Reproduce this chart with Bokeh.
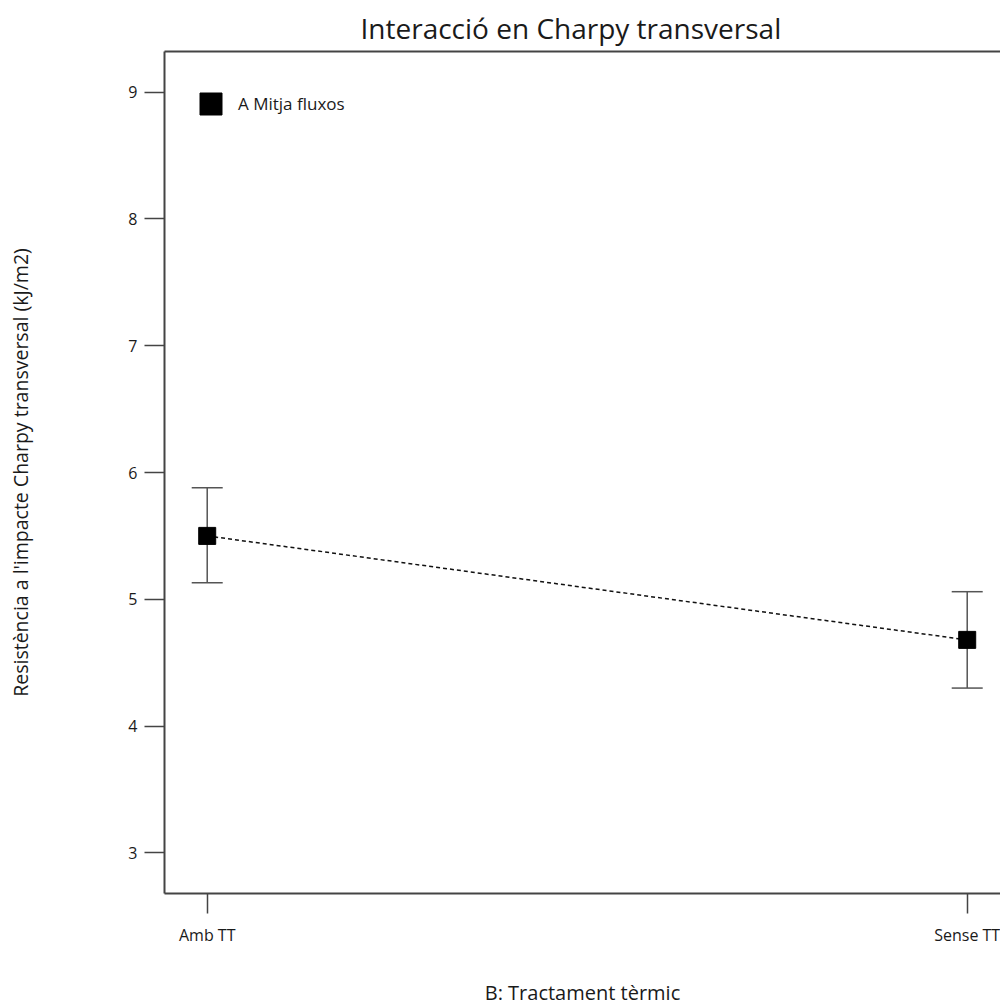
from bokeh.plotting import figure
from bokeh.models import (ColumnDataSource, FixedTicker, LinearAxis, Whisker, TeeHead,
                          Range1d, Legend, LegendItem)
from bokeh.embed import file_html
from bokeh.resources import INLINE

# data
categories = ["Amb TT", "Sense TT"]
series_name = "A Mitja fluxos"
means = [5.50, 4.68]
upper = [5.88, 5.06]
lower = [5.13, 4.30]
y_ticks = [3, 4, 5, 6, 7, 8, 9]

xpos = list(range(len(categories)))
src = ColumnDataSource(dict(x=xpos, y=means, upper=upper, lower=lower))

FONT = "Open Sans"
TXT = "#1a1a1a"
AX = "#444444"

p = figure(width=1000, height=1008, output_backend="svg", toolbar_location=None,
           x_range=Range1d(-0.0562, 1.0438), y_range=Range1d(2.68, 9.32),
           min_border_left=164, min_border_right=0, min_border_top=51, min_border_bottom=114,
           x_axis_location="below")
p.outline_line_color = None
p.grid.visible = False
p.background_fill_color = "white"
p.border_fill_color = "white"

p.title.text = "Interacció en Charpy transversal"
p.title.align = "left"
p.title.offset = 196
p.title.standoff = 10
p.title.text_font = FONT
p.title.text_font_size = "28px"
p.title.text_font_style = "normal"
p.title.text_color = TXT

# axes
xa = p.xaxis[0]
xa.ticker = FixedTicker(ticks=xpos)
xa.major_label_overrides = {i: c for i, c in enumerate(categories)}
xa.axis_label = "B: Tractament tèrmic"
ya = p.yaxis[0]
ya.ticker = FixedTicker(ticks=y_ticks)
ya.axis_label = "Resistència a l'impacte Charpy transversal (kJ/m2)"
for ax in (xa, ya):
    ax.major_tick_out = 20
    ax.major_tick_in = 0
    ax.minor_tick_out = 0
    ax.minor_tick_in = 0
    ax.axis_line_color = AX
    ax.axis_line_width = 2
    ax.major_tick_line_color = AX
    ax.major_tick_line_width = 1.5
    ax.major_label_text_font = FONT
    ax.major_label_text_font_size = "16px"
    ax.major_label_text_color = TXT
    ax.axis_label_text_font = FONT
    ax.axis_label_text_font_size = "19.5px"
    ax.axis_label_text_font_style = "normal"
    ax.axis_label_text_color = TXT
xa.major_label_standoff = 10
xa.axis_label_standoff = 30
xa.axis_label_text_font_size = "20px"
ya.major_label_standoff = 7
ya.axis_label_standoff = 91

top = LinearAxis(ticker=FixedTicker(ticks=[]), major_label_text_font_size="0px",
                 major_tick_out=0, major_tick_in=0, minor_tick_out=0, minor_tick_in=0,
                 axis_line_color=AX, axis_line_width=2)
p.add_layout(top, "above")

# error bars
w = Whisker(source=src, base="x", upper="upper", lower="lower",
            line_color="#555555", line_width=1.5,
            upper_head=TeeHead(size=31, line_color="#555555", line_width=1.5),
            lower_head=TeeHead(size=31, line_color="#555555", line_width=1.5))
p.add_layout(w)

p.line("x", "y", source=src, line_color="#111111", line_width=1.5, line_dash="4 3")
r = p.scatter("x", "y", source=src, marker="square", size=17, fill_color="black", line_color="black")

legend = Legend(items=[LegendItem(label=series_name, renderers=[r])],
                location=(19, 762), margin=0, padding=0, border_line_color=None,
                background_fill_alpha=0, glyph_width=55, glyph_height=55, label_standoff=-6,
                label_text_font=FONT, label_text_font_size="17px", label_text_color=TXT)
p.add_layout(legend, "center")

open("out.html", "w").write(file_html(p, INLINE))
